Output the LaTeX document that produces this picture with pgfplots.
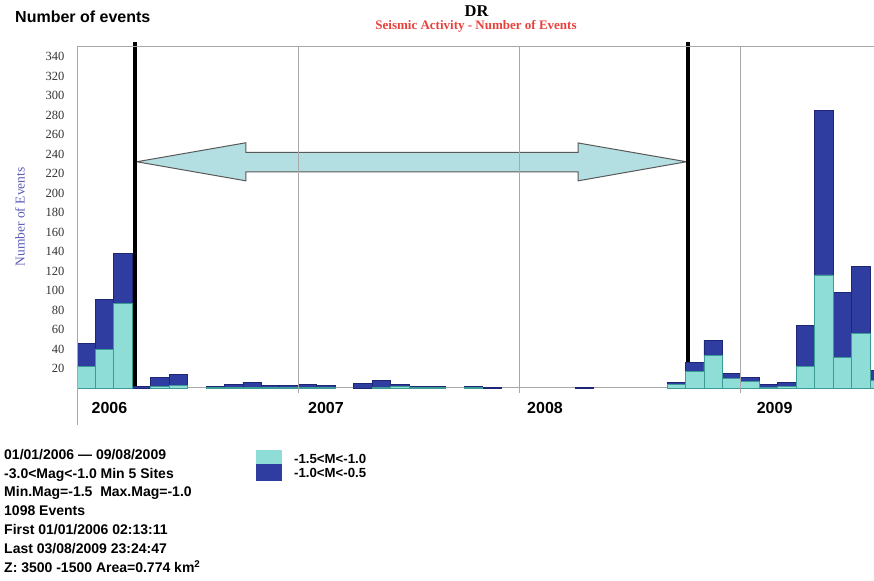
\documentclass[border=0pt]{standalone}
\usepackage{fontspec}
\setmainfont{Liberation Sans}
\newfontfamily\timesfont{Liberation Serif}
\usepackage{pgfplots}
\pgfplotsset{compat=1.18}
\usepackage{pgfplotstable}

\definecolor{lowmag}{HTML}{8EDDD6}
\definecolor{lowedge}{HTML}{3C9C95}
\definecolor{highmag}{HTML}{2E3D9F}
\definecolor{highedge}{HTML}{1D2775}
\definecolor{arrowfill}{HTML}{B3DFE2}
\definecolor{gridgrey}{HTML}{A8A8A8}
\definecolor{titlered}{HTML}{E8413C}
\definecolor{ylabelblue}{HTML}{5A5AB8}

% monthly event counts, month 0 = Jan 2006 (bars centred on month + 0.5)
% lo: -1.5<M<-1.0, hi: -1.0<M<-0.5
\pgfplotstableread{
x    lo   hi
0.5  22   24
1.5  40   51
2.5  87   51
3.5  0    2
4.5  2    9
5.5  3    11
7.5  0.5  1
8.5  1    3
9.5  1    5
10.5 1    1.5
11.5 1    2
12.5 1    3
13.5 1    2
15.5 0    4.5
16.5 0.5  7.5
17.5 1.5  2.5
18.5 0.5  1.5
19.5 0.5  1.5
21.5 0.3  1
22.5 0    0.5
27.5 0    0.5
32.5 4    1.5
33.5 17   9
34.5 33   16
35.5 10   4.5
36.5 7    4
37.5 1    3
38.5 2    3.5
39.5 22   42
40.5 116  169
41.5 31   67
42.5 56   69
43.5 8    10
}\events

\begin{document}
\begin{tikzpicture}[x=1pt,y=1pt]
\useasboundingbox (0,0) rectangle (874,580);
\begin{axis}[
  at={(77pt,155pt)}, anchor=south west,
  width=797pt, height=378pt, scale only axis,
  xmin=0, xmax=43.22, ymin=-38, ymax=350,
  axis line style={draw=none},
  ybar stacked, bar width=1,
  xtick=\empty,
  ytick={20,40,...,340},
  major tick length=0pt,
  /pgf/number format/assume math mode=true,
  yticklabel style={font=\timesfont\fontsize{12.5}{12.5}\selectfont, text=black!80, xshift=-9pt},
  clip mode=individual,
]
% frame, baseline and year separators
\draw[gridgrey, line width=1pt] (axis cs:0,-38) -- (axis cs:0,350) -- (axis cs:43.22,350);
\draw[gridgrey, line width=0.8pt] (axis cs:12,-5) -- (axis cs:12,350);
\draw[gridgrey, line width=0.8pt] (axis cs:24,-5) -- (axis cs:24,350);
\draw[gridgrey, line width=0.8pt] (axis cs:36,-5) -- (axis cs:36,350);

\addplot[fill=lowmag, draw=lowedge, line width=0.8pt] table[x=x, y=lo] {\events};
\addplot[fill=highmag, draw=highedge, line width=0.8pt] table[x=x, y=hi] {\events};

\draw[gridgrey, line width=1pt] (axis cs:0,0) -- (axis cs:43.22,0);

% quiet period markers
\draw[black, line width=4pt] (axis cs:3.12,1) -- (axis cs:3.12,355);
\draw[black, line width=4pt] (axis cs:33.15,1) -- (axis cs:33.15,355);
\draw[draw=black!65, line width=1pt, fill=arrowfill]
  (axis cs:3.24,232.2) -- (axis cs:9.16,251.7) -- (axis cs:9.16,241.9)
  -- (axis cs:27.17,241.9) -- (axis cs:27.17,251.5) -- (axis cs:33.05,232.2)
  -- (axis cs:27.17,212.6) -- (axis cs:27.17,221.9) -- (axis cs:9.16,221.9)
  -- (axis cs:9.16,212.6) -- cycle;

% year labels
\node[font=\bfseries\fontsize{16}{16}\selectfont] at (axis cs:1.76,-21) {2006};
\node[font=\bfseries\fontsize{16}{16}\selectfont] at (axis cs:13.5,-21) {2007};
\node[font=\bfseries\fontsize{16}{16}\selectfont] at (axis cs:25.38,-21) {2008};
\node[font=\bfseries\fontsize{16}{16}\selectfont] at (axis cs:37.83,-21) {2009};
\end{axis}

% titles
\node[anchor=base west, inner sep=0pt, font=\bfseries\fontsize{16}{16}\selectfont] at (15,557.5) {Number of events};
\node[anchor=base, inner sep=0pt, font=\timesfont\bfseries\fontsize{16.5}{16.5}\selectfont] at (476.5,563.2) {DR};
\node[anchor=base, inner sep=0pt, font=\timesfont\bfseries\fontsize{13}{13}\selectfont, text=titlered] at (476,550.5) {Seismic Activity - Number of Events};
\node[rotate=90, inner sep=0pt, font=\timesfont\fontsize{13.5}{13.5}\selectfont, text=ylabelblue] at (20,363) {Number of Events};

% legend
\fill[lowmag] (256,115.7) rectangle (281.7,130);
\fill[highmag] (256,99.3) rectangle (281.7,115.7);
\node[anchor=west, inner sep=0pt, font=\bfseries\fontsize{13.2}{13.2}\selectfont] at (294,121) {-1.5<M<-1.0};
\node[anchor=west, inner sep=0pt, font=\bfseries\fontsize{13.2}{13.2}\selectfont] at (294,106.7) {-1.0<M<-0.5};

% selection summary
\begin{scope}[every node/.style={anchor=base west, inner sep=0pt, font=\bfseries\fontsize{14}{14}\selectfont}]
\node at (4,120.7) {01/01/2006 — 09/08/2009};
\node at (4,101.9) {-3.0<Mag<-1.0 Min 5 Sites};
\node at (4,83.0) {Min.Mag=-1.5\ \ Max.Mag=-1.0};
\node at (4,64.2) {1098 Events};
\node at (4,45.4) {First 01/01/2006 02:13:11};
\node at (4,26.6) {Last 03/08/2009 23:24:47};
\node at (4,7.7) {Z: 3500 -1500 Area=0.774 km\textsuperscript{2}};
\end{scope}
\end{tikzpicture}
\end{document}
